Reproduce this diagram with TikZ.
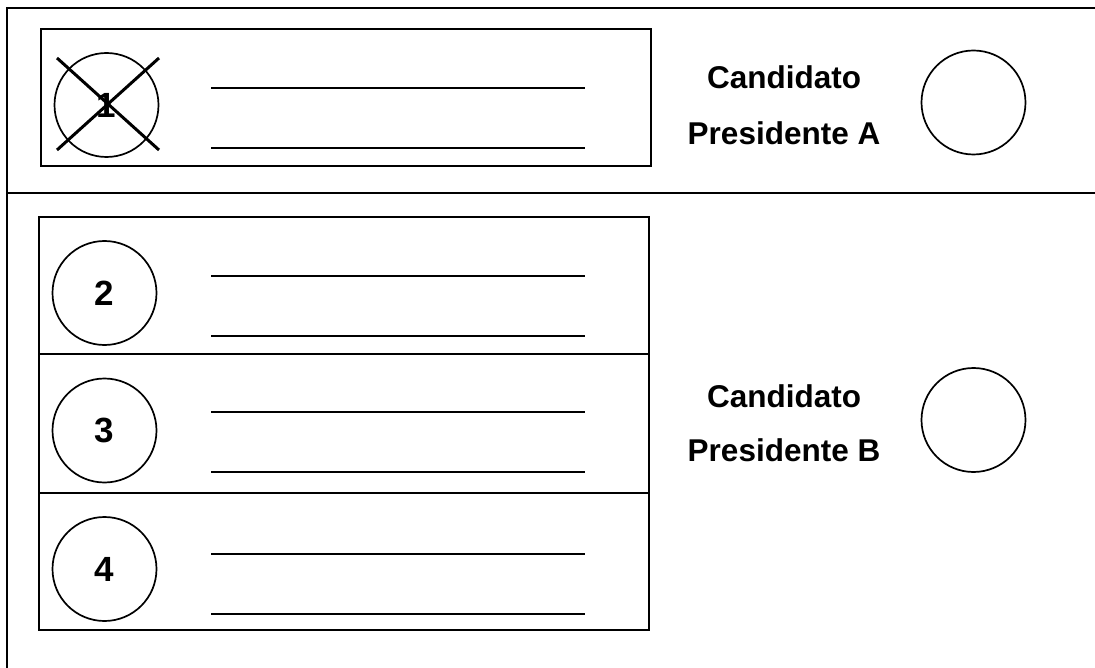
\documentclass[tikz,border=0pt]{standalone}
\usepackage{fontspec}
\setmainfont{Liberation Sans}
\newfontfamily\lblfont{Liberation Sans Bold}
\begin{document}
\begin{tikzpicture}[x=1pt,y=-1pt,
  frameline/.style={line width=2.6pt},
  boxline/.style={draw,line width=2.2pt},
  ballot/.style={draw,circle,line width=1.7pt,minimum size=104pt,inner sep=0pt,font=\lblfont\fontsize{35}{35}\selectfont},
  uline/.style={line width=2pt},
  lbl/.style={anchor=base,inner sep=0pt,font=\lblfont\fontsize{31.5}{32}\selectfont},
  crossline/.style={line width=3pt}]
\useasboundingbox (0,0) rectangle (1095,668);
% outer frame
\coordinate (tl) at (7,8);
\coordinate (tr) at (1095,8);
\coordinate (bl) at (7,668);
\coordinate (ml) at (7,193);
\coordinate (mr) at (1095,193);
\draw[frameline] (tr) -- (tl) -- (bl);
\draw[frameline] (ml) -- (mr);
% box 1
\draw[boxline] (41,29) rectangle (651,166);
\node[ballot] (c1) at (106.5,105) {1};
\coordinate (x1a) at (57,58);
\coordinate (x1b) at (159,150);
\coordinate (x1c) at (57,150);
\coordinate (x1d) at (159,58);
\draw[crossline] (x1a) -- (x1b);
\draw[crossline] (x1c) -- (x1d);
\coordinate (u1a) at (211,88); \coordinate (u1b) at (585,88);
\coordinate (u1c) at (211,148); \coordinate (u1d) at (585,148);
\draw[uline] (u1a) -- (u1b);
\draw[uline] (u1c) -- (u1d);
% candidate A
\node[lbl] (ca1) at (784,89) {Candidato};
\node[lbl] (ca2) at (784,145) {Presidente A};
\node[ballot] (ca) at (973.5,102.5) {};
% lower boxes
\draw[boxline] (39,217) rectangle (649,630);
\draw[boxline] (39,354) -- (649,354);
\draw[boxline] (39,493) -- (649,493);
\node[ballot] (c2) at (104.5,293) {2};
\node[ballot] (c3) at (104.5,430.5) {3};
\node[ballot] (c4) at (104.5,569) {4};
\coordinate (u2a) at (211,276); \coordinate (u2b) at (585,276);
\coordinate (u2c) at (211,336); \coordinate (u2d) at (585,336);
\coordinate (u3a) at (211,412); \coordinate (u3b) at (585,412);
\coordinate (u3c) at (211,472); \coordinate (u3d) at (585,472);
\coordinate (u4a) at (211,554); \coordinate (u4b) at (585,554);
\coordinate (u4c) at (211,614); \coordinate (u4d) at (585,614);
\draw[uline] (u2a) -- (u2b);
\draw[uline] (u2c) -- (u2d);
\draw[uline] (u3a) -- (u3b);
\draw[uline] (u3c) -- (u3d);
\draw[uline] (u4a) -- (u4b);
\draw[uline] (u4c) -- (u4d);
% candidate B
\node[lbl] (cb1) at (784,407) {Candidato};
\node[lbl] (cb2) at (784,461) {Presidente B};
\node[ballot] (cb) at (973.5,420) {};
\end{tikzpicture}
\end{document}
